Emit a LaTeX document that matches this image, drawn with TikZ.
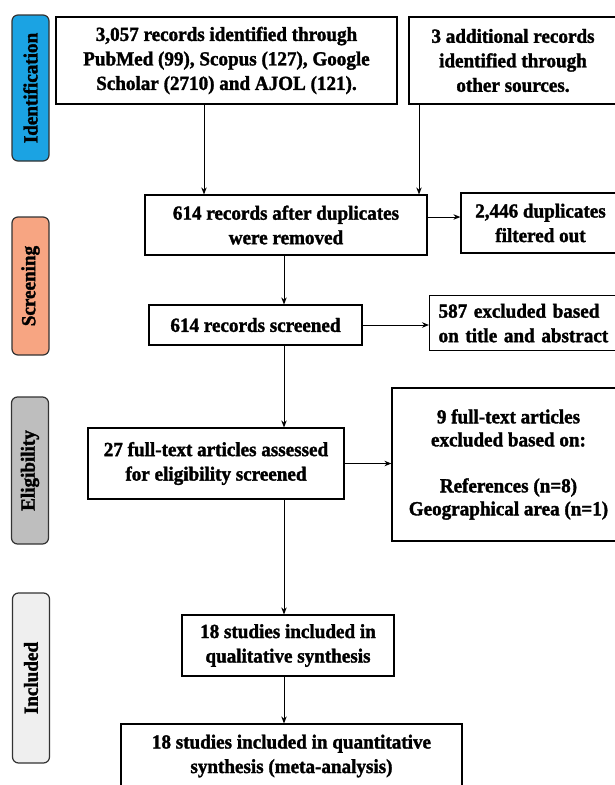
\documentclass[tikz,border=0pt]{standalone}
\usepackage{fontspec}
\setmainfont{Liberation Serif}[BoldFeatures={FakeBold=1.6,FakeStretch=0.955}]
\usetikzlibrary{arrows.meta}
\definecolor{identblue}{HTML}{1BA3E3}
\definecolor{screenorange}{HTML}{F7A582}
\definecolor{eliggray}{HTML}{BEBEBE}
\definecolor{inclgray}{HTML}{EFEFEF}
\begin{document}
\begin{tikzpicture}[x=1pt,y=-1pt,
        box/.style={draw,line width=1.2pt,inner sep=0pt,align=center,font=\bfseries\fontsize{20}{24.5}\selectfont},
        phase/.style={draw=black!80,line width=1.2pt,rounded corners=6pt,rotate=90,minimum height=37pt,inner sep=0pt,font=\bfseries\fontsize{20}{22}\selectfont},
        arr/.style={->,>={Stealth[length=7pt,width=5.5pt]},line width=1pt}]
        \useasboundingbox (0,0) rectangle (615,785);
        % phases
        \node[phase,fill=identblue,minimum width=146pt] (idph) at (30.5,88) {Identification};
        \node[phase,fill=screenorange,minimum width=138pt] (scph) at (30.5,286) {Screening};
        \node[phase,fill=eliggray,minimum width=147pt] (elph) at (30,470.5) {Eligibility};
        \node[phase,fill=inclgray,minimum width=170pt] (inph) at (31,678) {Included};
        % boxes
        \node[box,minimum width=341pt,minimum height=87pt] (rec) at (226.5,60.5) {3,057 records identified through\\PubMed (99), Scopus (127), Google\\Scholar (2710) and AJOL (121).};
        \node[box,minimum width=208pt,minimum height=87pt] (add) at (513,60.5) {3 additional records\\identified through\\other sources.};
        \node[box,minimum width=282pt,minimum height=60pt] (dup) at (286,225) {614 records after duplicates\\were removed};
        \node[box,minimum width=159pt,minimum height=60pt] (dupout) at (540.5,223) {2,446 duplicates\\filtered out};
        \node[box,minimum width=213pt,minimum height=40pt] (scr) at (255.5,325) {614 records screened};
        \node[box,anchor=north west,align=left,text width=190pt,inner xsep=9pt,minimum height=55pt] (exc) at (429,295) {587 excluded based\\on title and abstract};
        \node[box,minimum width=256pt,minimum height=71pt] (elig) at (216,463.5) {27 full-text articles assessed\\for eligibility screened};
        \node[box,minimum width=233pt,minimum height=153pt,font=\bfseries\fontsize{20}{23}\selectfont] (ftx) at (508.5,464.5) {9 full-text articles\\excluded based on:\\[23pt]References (n=8)\\Geographical area (n=1)};
        \node[box,minimum width=212pt,minimum height=61pt] (qual) at (288,645.5) {18 studies included in\\qualitative synthesis};
        \node[box,minimum width=341pt,minimum height=64pt] (quant) at (291.5,756) {18 studies included in quantitative\\synthesis (meta-analysis)};
        % arrows
        \coordinate (mainx) at (284,0); %main column
        \coordinate (recx) at (204,0);
        \coordinate (addx) at (419,0);
        \coordinate (dupy) at (0,217);
        \draw[arr] (rec.south -| recx) -- (dup.north -| recx);
        \draw[arr] (add.south -| addx) -- (dup.north -| addx);
        \draw[arr] (dup.east |- dupy) -- (dupout.west |- dupy);
        \draw[arr] (dup.south -| mainx) -- (scr.north -| mainx);
        \draw[arr] (scr.east) -- (scr.east -| exc.west);
        \draw[arr] (scr.south -| mainx) -- (elig.north -| mainx);
        \draw[arr] (elig.east) -- (elig.east -| ftx.west);
        \draw[arr] (elig.south -| mainx) -- (qual.north -| mainx);
        \draw[arr] (qual.south -| mainx) -- (quant.north -| mainx);
\end{tikzpicture}
\end{document}
